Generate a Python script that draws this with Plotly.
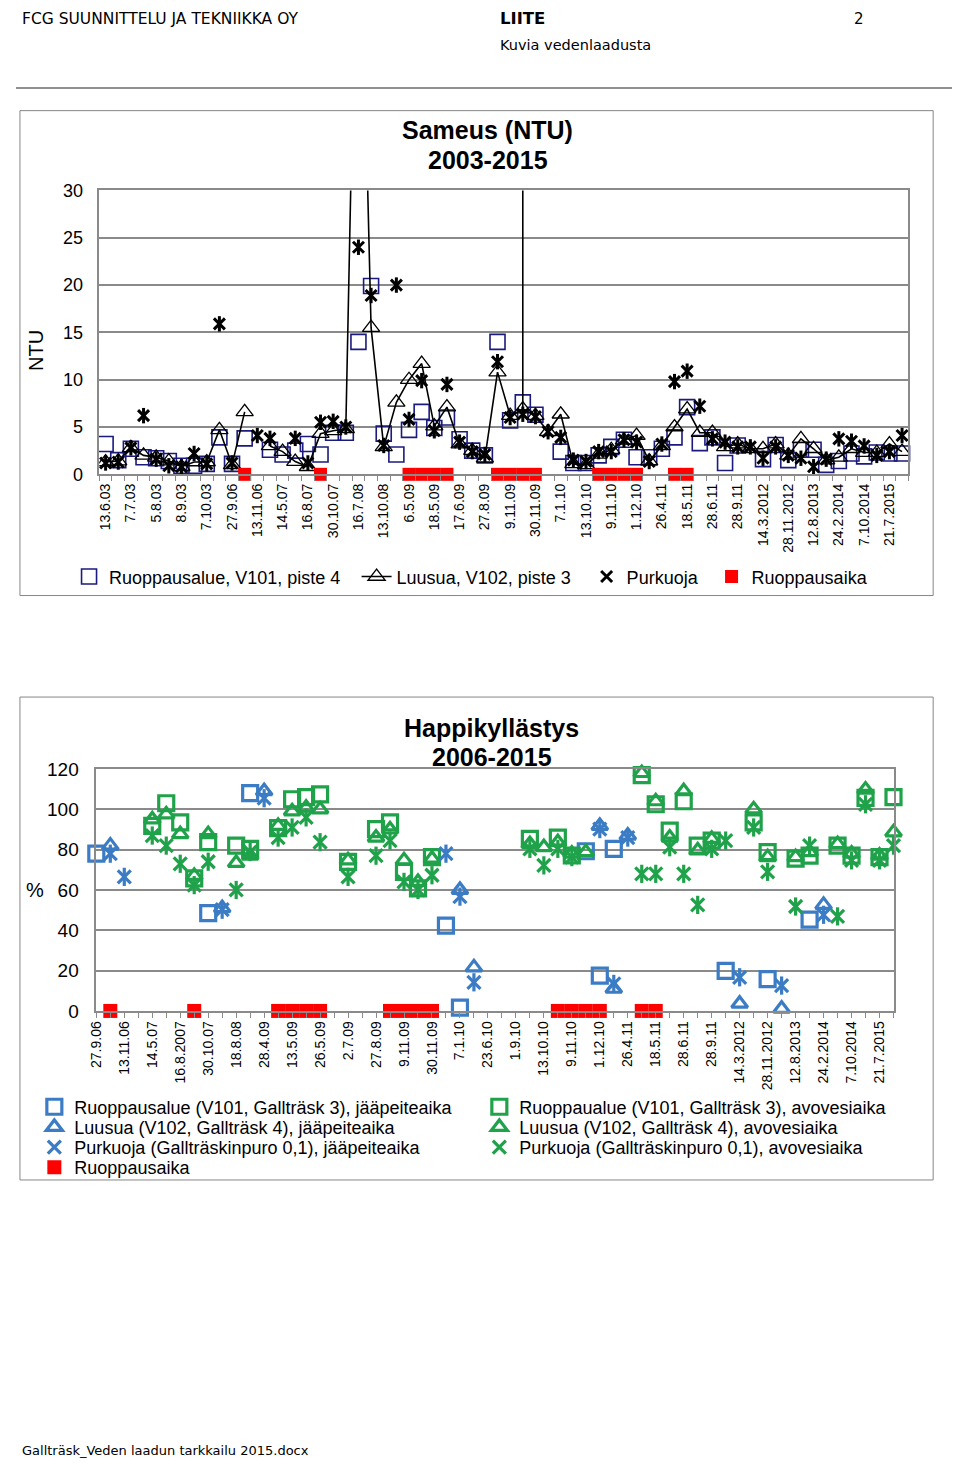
import plotly.graph_objects as go

# The page keeps the browser's 8px body margin, so the figure is 16px smaller
# than the window and all page-pixel positions are shifted by that margin.
PAGE_MARGIN = 8
W, H = 960 - 2 * PAGE_MARGIN, 1470 - 2 * PAGE_MARGIN
def fx(x):
    return (x - PAGE_MARGIN) / W
def fy(y):
    return 1 - (y - PAGE_MARGIN) / H

FONT = "Liberation Sans, Arial, sans-serif"
DOCFONT = "DejaVu Sans, Verdana, sans-serif"

# ---------------- Chart 1: Sameus (NTU) 2003-2015 ----------------
sameus_labels = ["13.6.03", "7.7.03", "5.8.03", "8.9.03", "7.10.03", "27.9.06", "13.11.06",
                 "14.5.07", "16.8.07", "30.10.07", "16.7.08", "13.10.08", "6.5.09", "18.5.09",
                 "17.6.09", "27.8.09", "9.11.09", "30.11.09", "7.1.10", "13.10.10", "9.11.10",
                 "1.12.10", "26.4.11", "18.5.11", "28.6.11", "28.9.11", "14.3.2012", "28.11.2012",
                 "12.8.2013", "24.2.2014", "7.10.2014", "21.7.2015"]
sameus_idx = list(range(64))  # sample positions, every second one labelled

ruoppausalue_ntu = [3.2, 1.5, 2.7, 1.8, 1.7, 1.4, 0.9, 0.9, 1.1, 3.9, 1.1, 3.8, None, 2.6, 2.1, 2.5,
                    3.2, 2.1, 4.4, 4.4, 14.0, 19.9, 4.3, 2.1, 4.7, 6.6, 4.9, 6.0, 3.7, 2.5, 2.0, 14.0,
                    5.7, 7.6, 6.3, None, 2.4, 1.2, 1.2, 2.0, 2.9, 3.65, 1.8, 1.8, 2.7, 3.9, 7.1, 3.3,
                    3.9, 1.2, 3.05, None, 1.6, 3.1, 1.5, 2.6, 2.6, 1.0, 1.4, 2.2, 1.9, 2.3, 2.2, 2.2]
luusua_ntu = [1.3, 1.4, 2.8, 2.0, 1.8, 1.4, 0.8, 1.3, 1.3, 4.7, 1.0, 6.6, None, 3.0, 2.4, 1.35,
              0.8, 4.3, 4.6, 4.8, 70.0, 15.5, 2.9, 7.6, 10.0, 11.7, 5.1, 7.1, 3.2, 2.5, 1.7, 10.8,
              6.2, 6.9, 6.2, 4.5, 6.35, 1.1, 1.0, 2.1, 2.6, 3.6, 4.1, 1.4, 3.0, 5.0, 6.9, 4.4,
              4.4, 2.9, 3.2, 2.7, 2.7, 3.2, 2.0, 3.75, 2.7, 1.5, 1.8, 2.7, 2.3, 2.3, 3.2, 2.4]
purkuoja_ntu = [1.2, 1.3, 2.8, 6.2, 1.6, 0.9, 0.8, 2.2, 1.1, 15.9, 1.2, None, 4.1, 3.8, None, 3.8,
                1.2, 5.5, 5.6, 5.0, 24.0, 18.9, 3.05, 20.0, 5.8, 9.9, 4.6, 9.5, 3.4, 2.4, 2.1, 11.9,
                6.0, 6.35, 6.1, 4.5, 3.9, 1.5, 1.35, 2.4, 2.4, 3.65, 3.4, 1.35, 3.2, 9.8, 10.9, 7.2,
                3.75, 3.4, 2.9, 2.9, 1.7, 2.9, 2.0, 1.7, 0.8, 1.6, 3.75, 3.5, 3.0, 2.0, 2.4, 4.1]
# off-scale Luusua reading drawn as a vertical spike at one sample
luusua_spike_idx = [33, 33]
luusua_spike_val = [6.9, 100.0]
ruoppaus1_idx = [11, 17, 24, 25, 26, 27, 31, 32, 33, 34, 39, 40, 41, 42, 45, 46]
ruoppaus1_val = [0] * len(ruoppaus1_idx)

# ---------------- Chart 2: Happikyllästys 2006-2015 ----------------
happi_labels = ["27.9.06", "13.11.06", "14.5.07", "16.8.2007", "30.10.07", "18.8.08", "28.4.09",
                "13.5.09", "26.5.09", "2.7.09", "27.8.09", "9.11.09", "30.11.09", "7.1.10", "23.6.10",
                "1.9.10", "13.10.10", "9.11.10", "1.12.10", "26.4.11", "18.5.11", "28.6.11", "28.9.11",
                "14.3.2012", "28.11.2012", "12.8.2013", "24.2.2014", "7.10.2014", "21.7.2015"]
happi_idx = list(range(58))

N = None
v101_ice = [78, N, N, N, N, N, N, N, 48.5, N, N, 108, N, N, N, N, N, N, N, N, N, N, N, N, N, 42.3, 1.6, N, N, N,
            N, N, N, N, N, 79.2, 17.5, 80.4, N, N, N, N, N, N, N, 19.9, N, N, 15.8, N, N, 45.3, N, N, N, N, N, N]
v102_ice = [N, 82, N, N, N, N, N, N, N, 51, N, N, 109, N, N, N, N, N, N, N, N, N, N, N, N, N, 60, 21.6, N, N,
            N, N, N, N, N, N, 91.8, 11, 87, N, N, N, N, N, N, N, 3.6, N, N, 1.1, N, N, 52.6, N, N, N, N, N]
purkuoja_ice = [N, 78, 66.5, N, N, N, N, N, N, 50.2, N, N, 105.5, N, N, N, N, N, N, N, N, N, N, N, N, 78, 56.7, 14.2, N, N,
                N, N, N, N, N, N, 90.2, 13.4, 86, N, N, N, N, N, N, N, 16.7, N, N, 12.6, N, N, 47.7, N, N, N, N, N]
v101_open = [N, N, N, N, 91.8, 103, 93.5, 65.7, 83.7, N, 82, 80.4, N, 90.7, 105, 106, 107.4, N, 73.9, N, 90.2, 93.5, 69, 60.8, 76.3, N, N, N, N, N,
             N, 85.3, N, 86, 77.1, N, N, N, N, 117, 102.5, 89.4, 104, 82, 84.5, N, N, 93.5, 78.8, N, 75.5, 77, N, 82, 77, 105.7, 76.3, 106]
v102_open = [N, N, N, N, 95, 97.5, 87.7, 67, 87.7, N, 73.4, 77, N, 91.8, 99, 100.8, 100, N, 74.7, N, 86, 90, 74.7, 64, 75.5, N, N, N, N, N,
             N, 82.8, 81.2, 83.7, 78, 78.8, N, N, N, 118, 104, 86, 109, 79.6, 85.3, N, N, 100, 76.3, N, 76.3, 78.8, N, 82.8, 78, 109.8, 77, 88.6]
purkuoja_open = [N, N, N, N, 87, 82, 73, 62.4, 74, N, 60, 78.8, N, 86, 91, 96, 83.7, N, 66.5, N, 77, 84.5, 64, 60, 67.3, N, N, N, N, N,
                 N, 80.4, 72.2, 80.4, 76.3, N, N, N, N, 68, 68, 81.2, 68, 52.6, 80.4, 84.5, N, 91, 69, N, 51.8, 82, N, 46.9, 74.7, 102.5, 74.7, 82]
ruoppaus2_idx = [1, 7, 13, 14, 15, 16, 21, 22, 23, 24, 33, 34, 35, 36, 39, 40]
ruoppaus2_val = [0] * len(ruoppaus2_idx)

NAVY = "#1b1b7e"
BLUE = "#3b7cc4"
GREEN = "#1fa24a"
RED = "#ff0000"
GRID = "#8a8a8a"

fig = go.Figure()

# ---- chart 1 traces (one legend per item, placed like the original)
fig.add_trace(go.Scatter(x=sameus_idx, y=ruoppausalue_ntu, mode="markers", name="Ruoppausalue, V101, piste 4",
                         marker=dict(symbol="square-open", size=15, color=NAVY, line=dict(width=1.6)),
                         cliponaxis=False, legend="legend", xaxis="x", yaxis="y"))
fig.add_trace(go.Scatter(x=luusua_spike_idx, y=luusua_spike_val, mode="lines", showlegend=False,
                         line=dict(color="black", width=1.6), xaxis="x", yaxis="y"))
fig.add_trace(go.Scatter(x=sameus_idx, y=luusua_ntu, mode="lines+markers", name="Luusua, V102, piste 3",
                         line=dict(color="black", width=1.6),
                         marker=dict(symbol="triangle-up-open", size=15, color="black", line=dict(width=1.3)),
                         legend="legend6", xaxis="x", yaxis="y"))
fig.add_trace(go.Scatter(x=sameus_idx, y=purkuoja_ntu, mode="markers", name="Purkuoja",
                         marker=dict(symbol="x-thin-open", size=11, color="black", line=dict(width=3)),
                         cliponaxis=False, legend="legend7", xaxis="x", yaxis="y"))
fig.add_trace(go.Scatter(x=sameus_idx, y=purkuoja_ntu, mode="markers", showlegend=False,
                         marker=dict(symbol="line-ns-open", size=11, color="black", line=dict(width=3)),
                         cliponaxis=False, xaxis="x", yaxis="y"))
fig.add_trace(go.Scatter(x=ruoppaus1_idx, y=ruoppaus1_val, mode="markers", name="Ruoppausaika",
                         marker=dict(symbol="square", size=13, color=RED),
                         cliponaxis=False, legend="legend8", xaxis="x", yaxis="y"))

# ---- chart 2 traces (one legend per legend row)
def star(xs, ys, color, name, leg):
    fig.add_trace(go.Scatter(x=xs, y=ys, mode="markers", name=name,
                             marker=dict(symbol="x-thin-open", size=13, color=color, line=dict(width=3.2)),
                             cliponaxis=False, legend=leg, xaxis="x2", yaxis="y2"))
    fig.add_trace(go.Scatter(x=xs, y=ys, mode="markers", showlegend=False,
                             marker=dict(symbol="line-ns-open", size=13, color=color, line=dict(width=3.2)),
                             cliponaxis=False, xaxis="x2", yaxis="y2"))

def sym(xs, ys, symbol, size, color, name, leg):
    fig.add_trace(go.Scatter(x=xs, y=ys, mode="markers", name=name,
                             marker=dict(symbol=symbol, size=size, color=color, line=dict(width=3.2)),
                             cliponaxis=False, legend=leg, xaxis="x2", yaxis="y2"))

sym(happi_idx, v101_ice, "square-open", 15, BLUE, "Ruoppausalue (V101, Gallträsk 3), jääpeiteaika", "legend2")
sym(happi_idx, v101_open, "square-open", 15, GREEN, "Ruoppaualue (V101, Gallträsk 3), avovesiaika", "legend2")
sym(happi_idx, v102_ice, "triangle-up-open", 14, BLUE, "Luusua (V102, Gallträsk 4), jääpeiteaika", "legend3")
sym(happi_idx, v102_open, "triangle-up-open", 14, GREEN, "Luusua (V102, Gallträsk 4), avovesiaika", "legend3")
star(happi_idx, purkuoja_ice, BLUE, "Purkuoja (Gallträskinpuro 0,1), jääpeiteaika", "legend4")
star(happi_idx, purkuoja_open, GREEN, "Purkuoja (Gallträskinpuro 0,1), avovesiaika", "legend4")
fig.add_trace(go.Scatter(x=ruoppaus2_idx, y=ruoppaus2_val, mode="markers", name="Ruoppausaika",
                         marker=dict(symbol="square", size=14, color=RED),
                         cliponaxis=False, legend="legend5", xaxis="x2", yaxis="y2"))

tickfont = dict(family=FONT, size=14, color="black")
LEG_TEXT_OFFSET = 40.5   # legend x -> start of entry text
leg1 = dict(orientation="h", xanchor="left", yanchor="middle", y=fy(575),
            font=dict(family=FONT, size=18), bgcolor="rgba(0,0,0,0)", borderwidth=0)
leg2 = dict(orientation="h", xanchor="left", yanchor="middle", entrywidth=400, entrywidthmode="pixels",
            x=fx(67 - LEG_TEXT_OFFSET), font=dict(family=FONT, size=18), bgcolor="rgba(0,0,0,0)",
            traceorder="normal", borderwidth=0)
fig.update_layout(
    width=W, height=H, margin=dict(l=0, r=0, t=0, b=0),
    paper_bgcolor="white", plot_bgcolor="white",
    font=dict(family=FONT, color="black"),
    xaxis=dict(domain=[fx(92), fx(908)], range=[-0.5, 63.5], tickmode="array",
               tickvals=sameus_idx[::2], ticktext=sameus_labels, tickangle=-90, tickfont=tickfont,
               ticks="", ticklabelstandoff=2, showgrid=False, zeroline=False,
               showline=True, linecolor=GRID, linewidth=1.5, mirror=True,
               minor=dict(tick0=-0.5, dtick=1, ticks="outside", ticklen=5, tickcolor=GRID, showgrid=False),
               anchor="y"),
    yaxis=dict(domain=[fy(471), fy(183)], range=[0, 30], dtick=5, tickfont=dict(family=FONT, size=18),
               showgrid=True, gridcolor=GRID, gridwidth=1.5, zeroline=False, ticks="",
               ticklabelstandoff=11, showline=True, linecolor=GRID, linewidth=1.5, mirror=True, anchor="x"),
    xaxis2=dict(domain=[fx(89), fx(893)], range=[0, 57], tickmode="array",
                tickvals=happi_idx[::2], ticktext=happi_labels, tickangle=-90, tickfont=tickfont,
                ticks="outside", ticklen=5, tickcolor=GRID, ticklabelstandoff=-2, showgrid=False, zeroline=False,
                showline=True, linecolor=GRID, linewidth=1.5, mirror=True,
                minor=dict(tick0=0, dtick=1, ticks="outside", ticklen=5, tickcolor=GRID, showgrid=False),
                anchor="y2"),
    yaxis2=dict(domain=[fy(1015.5), fy(770)], range=[0, 120], dtick=20, tickfont=dict(family=FONT, size=19),
                showgrid=True, gridcolor=GRID, gridwidth=1.5, zeroline=False, ticks="",
                ticklabelstandoff=12, showline=True, linecolor=GRID, linewidth=1.5, mirror=True, anchor="x2"),
    legend=dict(leg1, x=fx(102 - LEG_TEXT_OFFSET)),
    legend6=dict(leg1, x=fx(392 - LEG_TEXT_OFFSET)),
    legend7=dict(leg1, x=fx(624 - LEG_TEXT_OFFSET)),
    legend8=dict(leg1, x=fx(750 - LEG_TEXT_OFFSET)),
    legend2=dict(leg2, y=fy(1113)),
    legend3=dict(leg2, y=fy(1133.5)),
    legend4=dict(leg2, y=fy(1154)),
    legend5=dict(leg2, y=fy(1174.5)),
    shapes=[
        dict(type="line", xref="paper", yref="paper", x0=0, x1=fx(957), y0=fy(79), y1=fy(79),
             line=dict(color="#909090", width=2)),
        dict(type="rect", xref="paper", yref="paper", x0=fx(12), x1=fx(933), y0=fy(594), y1=fy(102),
             line=dict(color="#868686", width=1)),
        dict(type="rect", xref="paper", yref="paper", x0=fx(12), x1=fx(933), y0=fy(1187), y1=fy(697),
             line=dict(color="#868686", width=1)),
    ],
    annotations=[
        dict(text="FCG SUUNNITTELU JA TEKNIIKKA OY", x=fx(12), y=fy(9), xanchor="left", yanchor="middle",
             font=dict(family=DOCFONT, size=15.5)),
        dict(text="<b>LIITE</b>", x=fx(494), y=fy(9), xanchor="left", yanchor="middle",
             font=dict(family=DOCFONT, size=16.5)),
        dict(text="2", x=fx(858), y=fy(9), xanchor="center", yanchor="middle", font=dict(family=DOCFONT, size=15)),
        dict(text="Kuvia vedenlaadusta", x=fx(494), y=fy(35), xanchor="left", yanchor="middle",
             font=dict(family=DOCFONT, size=14.5)),
        dict(text="<b>Sameus (NTU)</b>", x=fx(484), y=fy(122), xanchor="center",
             yanchor="middle", font=dict(family=FONT, size=25)),
        dict(text="<b>2003-2015</b>", x=fx(484), y=fy(152), xanchor="center",
             yanchor="middle", font=dict(family=FONT, size=25)),
        dict(text="NTU", x=fx(28), y=fy(345), textangle=-90, xanchor="center", yanchor="middle",
             font=dict(family=FONT, size=20)),
        dict(text="<b>Happikyllästys</b>", x=fx(488), y=fy(728), xanchor="center",
             yanchor="middle", font=dict(family=FONT, size=25)),
        dict(text="<b>2006-2015</b>", x=fx(488), y=fy(758), xanchor="center",
             yanchor="middle", font=dict(family=FONT, size=25)),
        dict(text="%", x=fx(27), y=fy(893), xanchor="center", yanchor="middle", font=dict(family=FONT, size=20)),
        dict(text="Gallträsk_Veden laadun tarkkailu 2015.docx", x=fx(12), y=fy(1461), xanchor="left",
             yanchor="middle", font=dict(family=DOCFONT, size=13)),
    ],
)
for a in fig.layout.annotations:
    a.update(xref="paper", yref="paper", showarrow=False)

fig.write_html("out.html", config={"displayModeBar": False})
